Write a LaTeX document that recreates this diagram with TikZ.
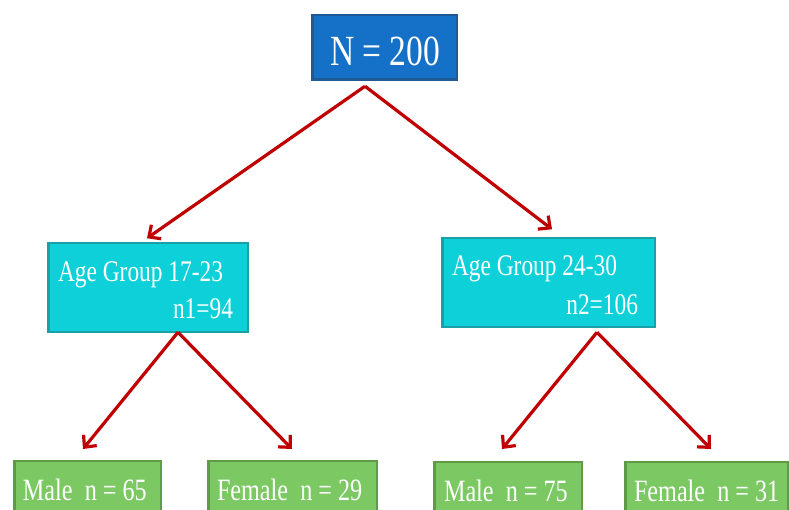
\documentclass[tikz,border=0pt]{standalone}
\usepackage{fontspec}
\setmainfont{Liberation Serif}[FakeStretch=0.78]
\usetikzlibrary{arrows.meta}
\definecolor{topfill}{HTML}{1570C8}
\definecolor{topdraw}{HTML}{1F5A94}
\definecolor{agefill}{HTML}{0DD0D9}
\definecolor{agedraw}{HTML}{1AA0A6}
\definecolor{sexfill}{HTML}{7CC964}
\definecolor{sexdraw}{HTML}{5E9A48}
\definecolor{arrred}{HTML}{C00000}
\tikzset{
  box/.style={rectangle, line width=2.5pt, outer sep=0pt, inner sep=0pt},
  topbox/.style={box, fill=topfill, draw=topdraw},
  agebox/.style={box, fill=agefill, draw=agedraw, minimum height=88.5pt},
  sexbox/.style={box, fill=sexfill, draw=sexdraw, minimum height=80pt},
  lbl/.style={text=white, inner sep=0pt, outer sep=0pt},
  arr/.style={draw=arrred, line width=3.2pt, -{Straight Barb[length=9pt,width=17pt,line width=3.2pt]}},
}
\begin{document}
\begin{tikzpicture}[x=1pt,y=-1pt]
\useasboundingbox (0,0) rectangle (789,510);
\clip (0,0) rectangle (789,510);
% boxes
\node[topbox, minimum width=144.5pt, minimum height=64.5pt] (top) at (384.5,47.5) {};
\node[agebox, minimum width=199.5pt] (ageA) at (148,287.5) {};
\node[agebox, minimum width=212.5pt] (ageB) at (548.5,282.5) {};
\node[sexbox, minimum width=146.5pt] (m1) at (87.5,501) {};
\node[sexbox, minimum width=168.5pt] (f1) at (292.5,501) {};
\node[sexbox, minimum width=147.5pt] (m2) at (508,502) {};
\node[sexbox, minimum width=162.5pt] (f2) at (706.5,502) {};
% texts
\node[lbl, anchor=base west, font=\fontsize{43}{43}\selectfont] (tN) at (330,66) {N = 200};
\node[lbl, anchor=base west, font=\fontsize{30}{30}\selectfont] (tA1) at (58,282) {Age Group 17-23};
\node[lbl, anchor=base east, font=\fontsize{30}{30}\selectfont] (tA2) at (233,319) {n1=94};
\node[lbl, anchor=base west, font=\fontsize{30}{30}\selectfont] (tB1) at (452,276) {Age Group 24-30};
\node[lbl, anchor=base east, font=\fontsize{30}{30}\selectfont] (tB2) at (638,314) {n2=106};
\node[lbl, anchor=base west, font=\fontsize{31}{31}\selectfont] (tm1) at (23,500) {Male\ \ n = 65};
\node[lbl, anchor=base west, font=\fontsize{31}{31}\selectfont] (tf1) at (217,500) {Female\ \ n = 29};
\node[lbl, anchor=base west, font=\fontsize{31}{31}\selectfont] (tm2) at (444,501) {Male\ \ n = 75};
\node[lbl, anchor=base west, font=\fontsize{31}{31}\selectfont] (tf2) at (634,501) {Female\ \ n = 31};
% connectors
\coordinate (sTop) at ([xshift=-19.5pt,yshift=-6.5pt]top.south);
\coordinate (sA) at ([xshift=30pt,yshift=-0.5pt]ageA.south);
\coordinate (sB) at ([xshift=48.5pt,yshift=-5.5pt]ageB.south);
\draw[arr] (sTop) -- ([xshift=-1pt,yshift=5pt]ageA.north);
\draw[arr] (sTop) -- ([xshift=3.5pt,yshift=9pt]ageB.north);
\draw[arr] (sA) -- ([xshift=-4.5pt,yshift=12pt]m1.north);
\draw[arr] (sA) -- ([xshift=-0.5pt,yshift=12pt]f1.north);
\draw[arr] (sB) -- ([xshift=-6pt,yshift=13pt]m2.north);
\draw[arr] (sB) -- ([xshift=4.5pt,yshift=13pt]f2.north);
\end{tikzpicture}
\end{document}
